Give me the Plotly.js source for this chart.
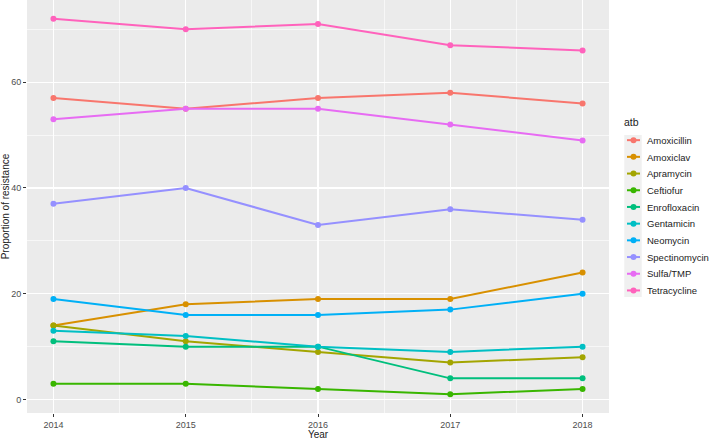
<!DOCTYPE html>
<html><head><meta charset="utf-8">
<script src="https://cdn.plot.ly/plotly-3.0.1.min.js"></script>
<style>html,body{margin:0;padding:0;background:#fff}#c{width:709px;height:440px}</style>
</head><body><div id="c"></div>
<script>
const years = [2014, 2015, 2016, 2017, 2018];
const atbNames = ["Amoxicillin","Amoxiclav","Apramycin","Ceftiofur","Enrofloxacin","Gentamicin","Neomycin","Spectinomycin","Sulfa/TMP","Tetracycline"];
const amoxicillin   = [57, 55, 57, 58, 56];
const amoxiclav     = [14, 18, 19, 19, 24];
const apramycin     = [14, 11, 9, 7, 8];
const ceftiofur     = [3, 3, 2, 1, 2];
const enrofloxacin  = [11, 10, 10, 4, 4];
const gentamicin    = [13, 12, 10, 9, 10];
const neomycin      = [19, 16, 16, 17, 20];
const spectinomycin = [37, 40, 33, 36, 34];
const sulfaTmp      = [53, 55, 55, 52, 49];
const tetracycline  = [72, 70, 71, 67, 66];
const colors = ["#F8766D","#D89000","#A3A500","#39B600","#00BF7D","#00BFC4","#00B0F6","#9590FF","#E76BF3","#FF62BC"];
const series = [amoxicillin, amoxiclav, apramycin, ceftiofur, enrofloxacin, gentamicin, neomycin, spectinomycin, sulfaTmp, tetracycline];

const font = "Liberation Sans, Arial, sans-serif";
const traces = series.map((v, i) => ({
  x: years, y: v, name: atbNames[i], type: "scatter", mode: "lines+markers",
  line: {color: colors[i], width: 2}, marker: {color: colors[i], size: 6}
}));

const layout = {
  width: 709, height: 440,
  margin: {l: 27, r: 100, t: 0, b: 27, autoexpand: false},
  paper_bgcolor: "#ffffff", plot_bgcolor: "#EBEBEB",
  font: {family: font, color: "#4D4D4D", size: 10},
  showlegend: true,
  xaxis: {
    range: [2013.8, 2018.2], tickmode: "array", tickvals: years, ticktext: years.map(String),
    showgrid: true, gridcolor: "#ffffff", gridwidth: 1.3, zeroline: false,
    ticks: "outside", ticklen: 3, tickcolor: "#333333", tickwidth: 1,
    tickfont: {size: 9, color: "#4D4D4D", family: font},
    minor: {tickvals: [2014.5, 2015.5, 2016.5, 2017.5], showgrid: true, gridcolor: "#ffffff", gridwidth: 0.6, ticks: ""},
    title: {text: "Year", font: {size: 10, color: "#222222", family: font}, standoff: 6},
    showline: false, fixedrange: true, automargin: false
  },
  yaxis: {
    range: [-2.55, 75.55], tickmode: "array", tickvals: [0, 20, 40, 60], ticktext: ["0","20","40","60"],
    showgrid: true, gridcolor: "#ffffff", gridwidth: 1.3, zeroline: false,
    ticks: "outside", ticklen: 3, tickcolor: "#333333", tickwidth: 1,
    tickfont: {size: 9, color: "#4D4D4D", family: font},
    minor: {tickvals: [10, 30, 50, 70], showgrid: true, gridcolor: "#ffffff", gridwidth: 0.6, ticks: ""},
    title: {text: "Proportion of resistance", font: {size: 10, color: "#222222", family: font}, standoff: 2},
    showline: false, fixedrange: true, automargin: false
  },
  shapes: [
    {type: "rect", xref: "paper", yref: "paper", x0: 1.0263, x1: 1.0562, y0: (413 - 297) / 413, y1: (413 - 135) / 413,
     fillcolor: "#F0F0F0", line: {width: 0}, layer: "below"}
  ],
  legend: {
    x: (622 - 27) / 582, xanchor: "left", y: 1 - 112 / 413, yanchor: "top",
    bgcolor: "rgba(0,0,0,0)", borderwidth: 0,
    font: {size: 9.5, color: "#222222", family: font},
    title: {text: "atb", font: {size: 10.5, color: "#222222", family: font}},
    tracegroupgap: 0, itemwidth: 30
  }
};
Plotly.newPlot("c", traces, layout, {displayModeBar: false, staticPlot: true}).then(gd => {
  // compact legend keys to ggplot-like size and spacing
  const items = gd.querySelectorAll(".legend .traces");
  let y0 = null;
  items.forEach((g, i) => {
    const m = /translate\(\s*([-\d.]+)[ ,]+([-\d.]+)\s*\)/.exec(g.getAttribute("transform") || "");
    if (!m) return;
    const tx = parseFloat(m[1]), ty = parseFloat(m[2]);
    if (y0 === null) y0 = ty;
    g.setAttribute("transform", `translate(${tx},${y0 + i * 16.7})`);
    g.querySelectorAll(".legendlines path").forEach(p => p.setAttribute("d", "M5,0h13"));
    g.querySelectorAll(".legendpoints path.scatterpts").forEach(p => p.setAttribute("transform", "translate(11.5,0)"));
    g.querySelectorAll("text.legendtext").forEach(t => t.setAttribute("x", "25"));
  });
});
</script></body></html>
